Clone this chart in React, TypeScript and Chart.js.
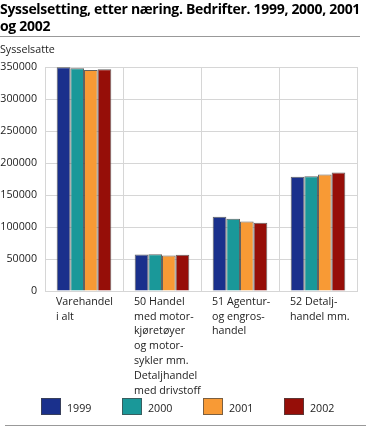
import React, { useEffect, useRef } from 'react';
import { Chart, registerables } from 'chart.js';

Chart.register(...registerables);

const FONT = "'Open Sans', sans-serif";

const title = ['Sysselsetting, etter næring. Bedrifter. 1999, 2000, 2001', 'og 2002'];
const yAxisTitle = 'Sysselsatte';

const categories: string[][] = [
  ['Varehandel', 'i alt'],
  ['50 Handel', 'med motor-', 'kjøretøyer', 'og motor-', 'sykler mm.', 'Detaljhandel', 'med drivstoff'],
  ['51 Agentur-', 'og engros-', 'handel'],
  ['52 Detalj-', 'handel mm.'],
];

const years = ['1999', '2000', '2001', '2002'];

const values1999 = [349500, 57000, 115900, 178400];
const values2000 = [348000, 57500, 112800, 179400];
const values2001 = [345500, 55500, 108600, 182000];
const values2002 = [346500, 56500, 106600, 185200];

const series = [values1999, values2000, values2001, values2002];
const colors = ['#1a308c', '#1a9899', '#f89a35', '#960e08'];

const yMin = 0;
const yMax = 350000;
const yStep = 50000;

const GRID = '#d6d6d6';
const TEXT = '#222';

export default function App() {
  const ref = useRef<HTMLCanvasElement | null>(null);

  useEffect(() => {
    if (!ref.current) return;
    const chart = new Chart(ref.current, {
      type: 'bar',
      data: {
        labels: categories as any,
        datasets: years.map((y, i) => ({
          label: y,
          data: series[i],
          backgroundColor: colors[i],
          borderColor: 'rgba(70,70,70,0.85)',
          borderWidth: 1,
          categoryPercentage: 0.7,
          barPercentage: 1,
        })),
      },
      options: {
        responsive: false,
        animation: false,
        devicePixelRatio: 1,
        layout: { autoPadding: false, padding: { top: 67, left: 0, right: 9, bottom: 16 } },
        plugins: {
          legend: { display: false },
          title: { display: false },
          tooltip: { enabled: false },
        },
        scales: {
          x: {
            grid: { color: GRID, drawTicks: false, offset: true },
            border: { color: GRID },
            ticks: {
              autoSkip: false,
              maxRotation: 0,
              minRotation: 0,
              align: 'start',
              labelOffset: -28,
              padding: 3,
              color: TEXT,
              font: { family: FONT, size: 10.7, lineHeight: 1.4 },
            },
            afterFit: (s: any) => {
              s.height = 120;
              s.paddingLeft = 0;
              s.paddingRight = 0;
            },
          },
          y: {
            min: yMin,
            max: yMax,
            ticks: {
              stepSize: yStep,
              padding: 8,
              color: TEXT,
              font: { family: FONT, size: 10.7 },
              callback: (v: any) => String(v),
            },
            grid: { color: GRID, drawTicks: false },
            border: { color: GRID },
            afterFit: (s: any) => {
              s.width = 45;
              s.paddingTop = 0;
              s.paddingBottom = 0;
            },
          },
        },
      },
    });
    return () => chart.destroy();
  }, []);

  return (
    <div style={{ position: 'absolute', left: 0, top: 0, width: 366, height: 427, background: '#fff', overflow: 'hidden' }}>
      <canvas ref={ref} width={366} height={427} style={{ position: 'absolute', left: 0, top: 0, width: 366, height: 427 }} />
      <div
        style={{
          position: 'absolute',
          left: 0,
          top: -1,
          width: 360,
          height: 37,
          borderBottom: '1px solid #999',
          fontFamily: FONT,
          fontWeight: 700,
          fontSize: 14,
          letterSpacing: '-0.3px',
          lineHeight: '17px',
          color: '#000',
          whiteSpace: 'nowrap',
        }}
      >
        <div style={{ paddingTop: 1 }}>{title[0]}</div>
        <div>{title[1]}</div>
      </div>
      <div
        style={{
          position: 'absolute',
          left: 0,
          top: 42,
          fontFamily: FONT,
          fontSize: 10.7,
          lineHeight: '14px',
          color: TEXT,
        }}
      >
        {yAxisTitle}
      </div>
      <div style={{ position: 'absolute', left: 41, top: 398, height: 20 }}>
        {years.map((y, i) => (
          <div key={y} style={{ position: 'absolute', left: i * 81, top: 0, width: 81, height: 20 }}>
            <div
              style={{
                position: 'absolute',
                left: 0,
                top: 0,
                width: 18,
                height: 15,
                background: colors[i],
                border: '1px solid rgba(70,70,70,0.7)',
              }}
            />
            <div
              style={{
                position: 'absolute',
                left: 26,
                top: 4,
                fontFamily: FONT,
                fontSize: 10.7,
                lineHeight: '12px',
                color: TEXT,
              }}
            >
              {y}
            </div>
          </div>
        ))}
      </div>
      <div style={{ position: 'absolute', left: 5, top: 425, width: 361, height: 0, borderTop: '1px solid #999' }} />
    </div>
  );
}
